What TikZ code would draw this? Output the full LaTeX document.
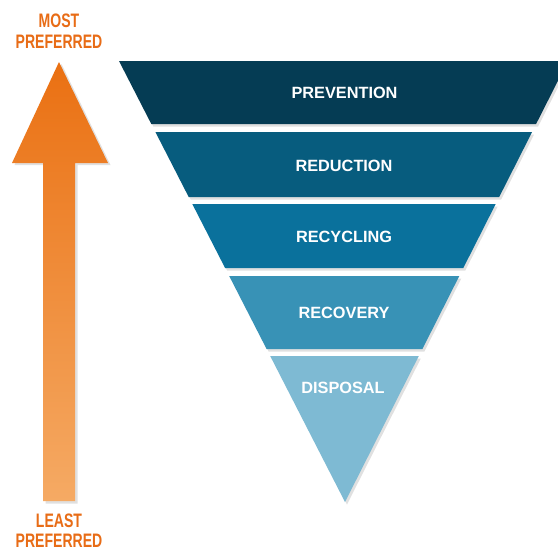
\documentclass[tikz,border=0pt]{standalone}
\usepackage{fontspec}
\setmainfont{Liberation Sans}
\definecolor{bandA}{RGB}{5,60,84}
\definecolor{bandB}{RGB}{7,92,126}
\definecolor{bandC}{RGB}{10,113,156}
\definecolor{bandD}{RGB}{56,146,182}
\definecolor{bandE}{RGB}{126,186,211}
\definecolor{orangeTop}{RGB}{234,112,18}
\definecolor{orangeBot}{RGB}{245,170,100}
\definecolor{orangeText}{RGB}{232,108,22}
\tikzset{
  bandtext/.style={text=white,font=\fontsize{16.3}{19}\selectfont\bfseries,inner sep=0pt},
  endlabel/.style={text=orangeText,align=center,inner sep=0pt,font=\fontsize{19.5}{22}\selectfont\bfseries},
  shadowfill/.style={fill=black,opacity=0.12}
}
\newcommand{\narrowtxt}[1]{\scalebox{0.72}[1]{#1}}
\begin{document}
\begin{tikzpicture}[x=1pt,y=-1pt]
\useasboundingbox (0,0) rectangle (558,552);
\clip (0,0) rectangle (558,552);
\fill[white] (0,0) rectangle (558,552);
% arrow shadow
\fill[shadowfill] (61.5,64) -- (110.5,165) -- (77.5,165) -- (77.5,503.5) -- (45.5,503.5) -- (45.5,165) -- (14.5,165) -- cycle;
% arrow
\shade[top color=orangeTop,bottom color=orangeBot]
  (59,62) -- (108,163) -- (75,163) -- (75,501) -- (43,501) -- (43,163) -- (12,163) -- cycle;
% band shadows
\begin{scope}[shift={(2,2.5)}]
\fill[shadowfill] (119,61) -- (568,61) -- (536.1,124) -- (151.3,124) -- cycle;
\fill[shadowfill] (155.4,132) -- (532.1,132) -- (499.2,197) -- (188.7,197) -- cycle;
\fill[shadowfill] (192.3,204) -- (495.7,204) -- (463.3,268) -- (225.1,268) -- cycle;
\fill[shadowfill] (229.2,276) -- (459.3,276) -- (422.4,349) -- (266.6,349) -- cycle;
\fill[shadowfill] (270.2,356) -- (418.8,356) -- (345,502) -- cycle;
\end{scope}
% bands
\fill[bandA] (119,61) -- (568,61) -- (536.1,124) -- (151.3,124) -- cycle;
\fill[bandB] (155.4,132) -- (532.1,132) -- (499.2,197) -- (188.7,197) -- cycle;
\fill[bandC] (192.3,204) -- (495.7,204) -- (463.3,268) -- (225.1,268) -- cycle;
\fill[bandD] (229.2,276) -- (459.3,276) -- (422.4,349) -- (266.6,349) -- cycle;
\fill[bandE] (270.2,356) -- (418.8,356) -- (345,502) -- cycle;
% band labels
\node[bandtext] (prevention) at (344.5,93) {PREVENTION};
\node[bandtext] (reduction) at (344,166) {REDUCTION};
\node[bandtext] (recycling) at (344,237) {RECYCLING};
\node[bandtext] (recovery) at (344,313) {RECOVERY};
\node[bandtext] (disposal) at (343,388) {DISPOSAL};
% end labels
\node[endlabel] (most) at (59,31) {\narrowtxt{MOST}\\[-1pt]\narrowtxt{PREFERRED}};
\node[endlabel] (least) at (59,530.5) {\narrowtxt{LEAST}\\[-1.5pt]\narrowtxt{PREFERRED}};
\end{tikzpicture}
\end{document}
